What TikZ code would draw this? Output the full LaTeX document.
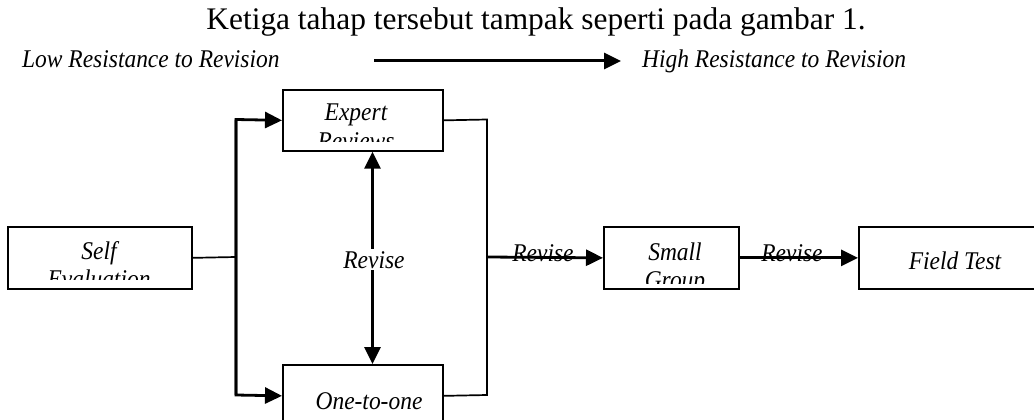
\documentclass[tikz,border=0pt]{standalone}
\usepackage{fontspec}
\setmainfont{Liberation Serif}
\newfontfamily\labfont{Liberation Serif Italic}[FakeStretch=0.92]
\usetikzlibrary{arrows.meta}
\begin{document}
\begin{tikzpicture}[x=1pt,y=-1pt,
  box/.style={draw, line width=1.7pt, inner sep=0pt, anchor=north west},
  lab/.style={font=\fontsize{25.5}{28}\labfont, inner sep=0pt, anchor=base},
  thinline/.style={line width=1.7pt},
  arr/.style={line width=2.8pt, line join=miter, -{Triangle[length=17pt,width=16pt]}},
  dblarr/.style={line width=2.8pt, {Triangle[length=17pt,width=16pt]}-{Triangle[length=17pt,width=16pt]}},
]
\useasboundingbox (0,0) rectangle (1034,420);
\clip (0,0) rectangle (1034,420);

% title and scale
\node[font=\fontsize{31.4}{36}\selectfont, inner sep=0pt, anchor=base] (title) at (536,30) {Ketiga tahap tersebut tampak seperti pada gambar 1.};
\node[lab, anchor=base west] (low) at (22,68) {Low Resistance to Revision};
\node[lab, anchor=base west] (high) at (642,68) {High Resistance to Revision};
\coordinate (a1) at (374,61);
\coordinate (a2) at (621,61);
\draw[arr, line width=3pt] (a1) -- (a2);

% boxes
\node[box, minimum width=184pt, minimum height=62pt] (self) at (7,226) {};
\node[box, minimum width=160pt, minimum height=61pt] (expert) at (282,89) {};
\node[box, minimum width=160pt, minimum height=62pt] (one) at (282,364) {};
\node[box, minimum width=135pt, minimum height=62pt] (small) at (603,226) {};
\node[box, minimum width=200pt, minimum height=62pt] (field) at (858,226) {};

% clipped box texts
\begin{scope}
  \clip (7,226) rectangle (191,279);
  \node[lab] (selfa) at (99,259) {Self};
  \node[lab] (selfb) at (99,287) {Evaluation};
\end{scope}
\begin{scope}
  \clip (282,89) rectangle (442,141);
  \node[lab] (expa) at (356,121) {Expert};
  \node[lab] (expb) at (356,149) {Reviews};
\end{scope}
\node[lab] (onea) at (369,409) {One-to-one};
\begin{scope}
  \clip (603,226) rectangle (738,283);
  \node[lab] (smalla) at (675,260) {Small};
  \node[lab] (smallb) at (675,288) {Group};
\end{scope}
\node[lab] (fielda) at (955,269) {Field Test};

% left fork
\coordinate (jl) at (236,257);
\coordinate (jlt) at (236,119.5);
\coordinate (jlb) at (236,395);
\draw[thinline] (self.east) -- (jl);
\draw[arr] (jlb) -- (jlt) -- (expert.west);
\draw[arr] (jlt) -- (jlb) -- (one.west);

% right join
\coordinate (jrt) at (487,119.5);
\coordinate (jrb) at (487,395);
\coordinate (jrm) at (487,257);
\draw[thinline, line join=miter] (expert.east) -- (jrt) -- (jrb) -- (one.east);

% middle revise
\draw[dblarr] (expert.south -| 372.5,0) -- (one.north -| 372.5,0);
\node[lab, fill=white, inner sep=2pt] (rev) at (374,268) {Revise};

% revise arrows
\node[lab] (rev1) at (543,261) {Revise};
\node[lab] (rev2) at (792,261) {Revise};
\draw[arr] (jrm) -- (small.west);
\draw[arr] (small.east) -- (field.west);
\end{tikzpicture}
\end{document}
